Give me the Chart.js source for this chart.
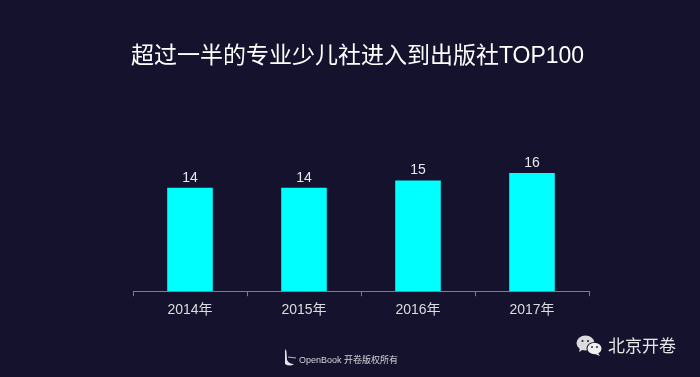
<!DOCTYPE html>
<html>
<head>
<meta charset="utf-8">
<script src="https://cdn.jsdelivr.net/npm/chart.js@4"></script>
<style>
  html, body { margin: 0; padding: 0; background: #15122d; }
  #wrap { position: relative; width: 700px; height: 377px; overflow: hidden; font-family: "Liberation Sans", "Noto Sans CJK SC", sans-serif; }
  #c { position: absolute; left: 0; top: 0; }
  .txt { position: absolute; white-space: nowrap; }
  #title { left: 0; top: 40px; width: 715px; text-align: center; font-size: 23px; line-height: 30px; color: #fff; }
  #brand { left: 299px; top: 354px; font-size: 9px; line-height: 12px; color: #d4d4da; }
  #wechat { left: 608px; top: 336px; font-size: 17px; line-height: 22px; color: #e6e6e6; }
  svg { position: absolute; }
</style>
</head>
<body>
<div id="wrap">
  <canvas id="c" width="700" height="377"></canvas>
  <div class="txt" id="title">超过一半的专业少儿社进入到出版社TOP100</div>
  <svg style="left:282px;top:348px" width="16" height="20" viewBox="0 0 16 20">
    <path d="M3 1 L3 16 Q8 19 12 16 Q7 16 5 12 L4.4 3 Z" fill="#e4e4ea"/>
    <path d="M6 9 L14 10" stroke="#b9b9c4" stroke-width="1"/>
  </svg>
  <div class="txt" id="brand">OpenBook 开卷版权所有</div>
  <svg style="left:575px;top:334px" width="30" height="24" viewBox="0 0 30 24">
    <ellipse cx="10.5" cy="9" rx="9" ry="7.6" fill="#dcdcdc"/>
    <path d="M5 14 L4 18 L9 15 Z" fill="#dcdcdc"/>
    <ellipse cx="19.5" cy="14.5" rx="8" ry="6.6" fill="#15122d"/>
    <ellipse cx="19.5" cy="14.5" rx="7" ry="5.8" fill="#f0f0f0"/>
    <path d="M23 19 L25 22 L20 20 Z" fill="#f0f0f0"/>
    <circle cx="7.5" cy="7" r="1" fill="#15122d"/>
    <circle cx="13" cy="7" r="1" fill="#15122d"/>
    <circle cx="17" cy="13" r="0.9" fill="#15122d"/>
    <circle cx="22" cy="13" r="0.9" fill="#15122d"/>
  </svg>
  <div class="txt" id="wechat">北京开卷</div>
</div>
<script>
const years = ['2014年', '2015年', '2016年', '2017年'];
const counts = [14, 14, 15, 16];

// value labels on top of the bars
const valueLabels = {
    id: 'valueLabels',
    afterDatasetsDraw(chart) {
        const ctx = chart.ctx;
        ctx.save();
        ctx.font = '14px "Liberation Sans", sans-serif';
        ctx.fillStyle = '#e8e8ec';
        ctx.textAlign = 'center';
        ctx.textBaseline = 'bottom';
        chart.getDatasetMeta(0).data.forEach((bar, i) => {
            ctx.fillText(counts[i], bar.x, bar.y - 3);
        });
        ctx.restore();
    }
};

new Chart(document.getElementById('c'), {
    type: 'bar',
    data: {
        labels: years,
        datasets: [{
            data: counts,
            backgroundColor: '#00ffff',
            categoryPercentage: 0.4,
            barPercentage: 1
        }]
    },
    options: {
        responsive: false,
        animation: false,
        layout: { padding: { left: 133, right: 111, top: 114, bottom: 52 } },
        plugins: {
            legend: { display: false },
            title: { display: false },
            tooltip: { enabled: false }
        },
        scales: {
            y: { display: false, min: 0, max: 24 },
            x: {
                offset: true,
                grid: { drawOnChartArea: false, drawTicks: true, tickLength: 5, color: '#7d7c8e', offset: true },
                border: { color: '#7d7c8e' },
                ticks: { color: '#dcdce0', padding: 6, font: { size: 14, family: '"Liberation Sans", "Noto Sans CJK SC", sans-serif' }, maxRotation: 0 }
            }
        }
    },
    plugins: [valueLabels]
});
</script>
</body>
</html>
